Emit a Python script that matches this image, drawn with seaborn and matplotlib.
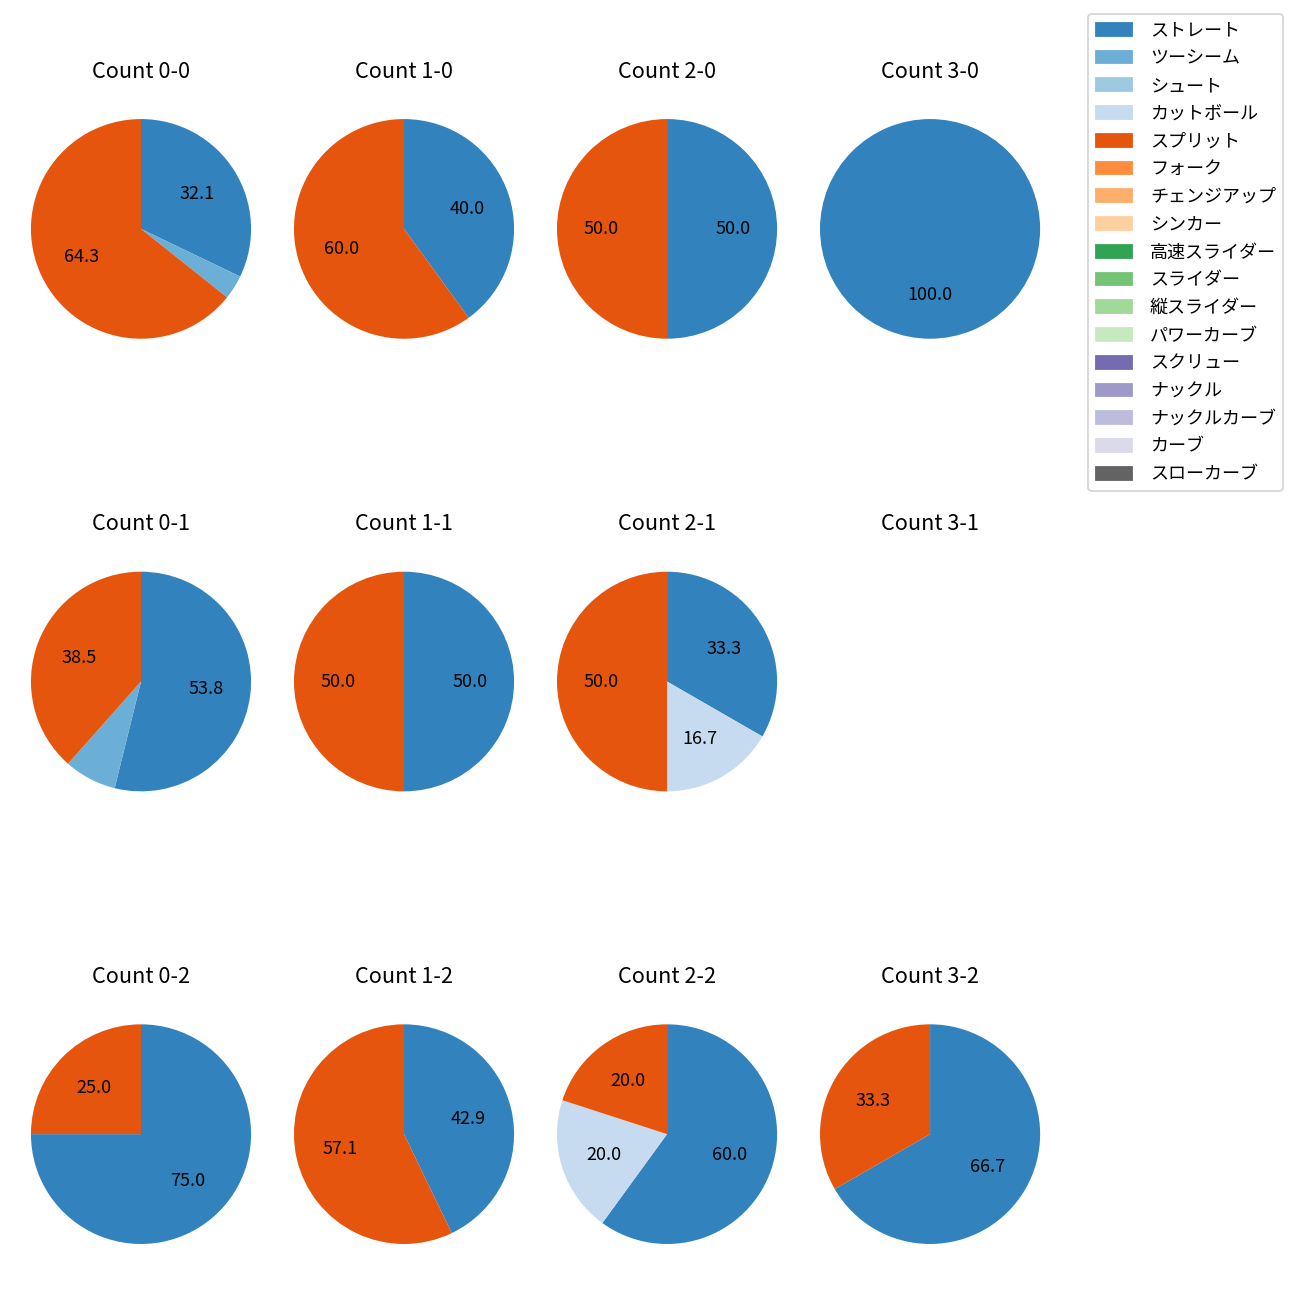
import matplotlib
matplotlib.use('Agg')
import matplotlib.pyplot as plt
import matplotlib.patches as mpatches
import seaborn as sns

plt.rcParams['font.family'] = ['Noto Sans CJK JP', 'DejaVu Sans']

# 球種（凡例の順）
pitch_types = ['ストレート', 'ツーシーム', 'シュート', 'カットボール', 'スプリット',
               'フォーク', 'チェンジアップ', 'シンカー', '高速スライダー', 'スライダー',
               '縦スライダー', 'パワーカーブ', 'スクリュー', 'ナックル', 'ナックルカーブ',
               'カーブ', 'スローカーブ']

# カウント別の球数（ストレート, ツーシーム, カットボール, スプリット）
used_types = ['ストレート', 'ツーシーム', 'カットボール', 'スプリット']
count_labels = ['0-0', '1-0', '2-0', '3-0',
                '0-1', '1-1', '2-1', '3-1',
                '0-2', '1-2', '2-2', '3-2']
straight = [9, 2, 1, 1, 7, 1, 2, 0, 3, 3, 3, 2]
twoseam = [1, 0, 0, 0, 1, 0, 0, 0, 0, 0, 0, 0]
cutball = [0, 0, 0, 0, 0, 0, 1, 0, 0, 0, 1, 0]
split = [18, 3, 1, 0, 5, 1, 3, 0, 1, 4, 1, 1]

colors = sns.color_palette('tab20c', 20)[:17]
color_map = dict(zip(pitch_types, colors))

fig, axes = plt.subplots(3, 4, figsize=(10, 10), dpi=130)
plt.subplots_adjust(left=0.0073, right=0.8166, top=0.9346, bottom=0.0169,
                    wspace=0.0, hspace=0.573)

for i, label in enumerate(count_labels):
    ax = axes[i // 4][i % 4]
    vals = [straight[i], twoseam[i], cutball[i], split[i]]
    ax.set_title(f'Count {label}', pad=4)
    if sum(vals) == 0:
        ax.axis('off')
        continue
    names = [n for n, v in zip(used_types, vals) if v > 0]
    sizes = [v for v in vals if v > 0]
    ax.pie(sizes, colors=[color_map[n] for n in names], startangle=90,
           counterclock=False,
           autopct=lambda p: f'{p:.1f}' if p >= 10 else '')
    ax.set_xlim(-1.195, 1.195)
    ax.set_ylim(-1.31, 1.31)
    ax.set_aspect('equal', adjustable='datalim')

handles = [mpatches.Patch(color=color_map[n], label=n) for n in pitch_types]
fig.legend(handles=handles, loc='upper right', bbox_to_anchor=(0.987, 0.989),
           borderaxespad=0, labelspacing=0.54, handletextpad=1.0)

plt.savefig('out.png')
